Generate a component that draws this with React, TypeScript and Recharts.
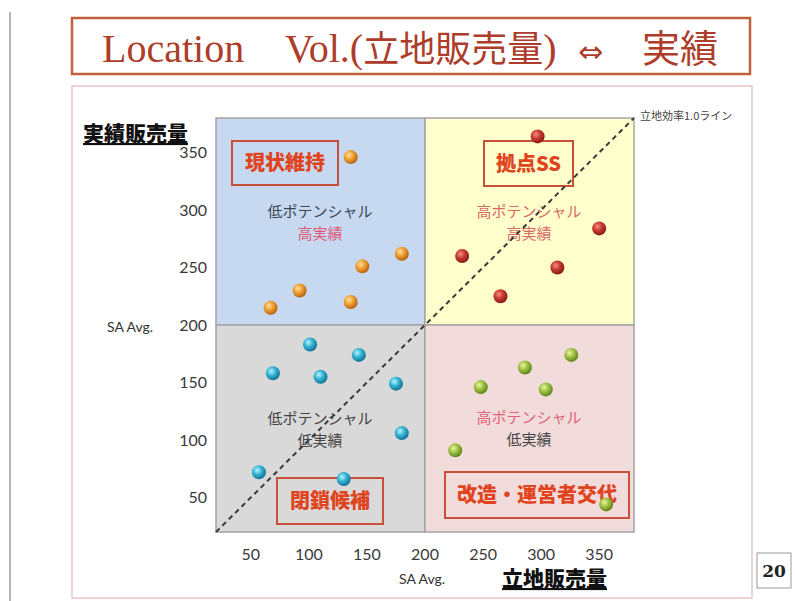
import React from 'react';
import {
  ScatterChart,
  Scatter,
  XAxis,
  YAxis,
  ReferenceArea,
  ReferenceLine,
} from 'recharts';

// 立地販売量 (x) / 実績販売量 (y)
const xTicks = [50, 100, 150, 200, 250, 300, 350];
const yTicks = [50, 100, 150, 200, 250, 300, 350];

const lowPotHighPerf = [
  { x: 136, y: 346 },
  { x: 180, y: 262 },
  { x: 146, y: 251 },
  { x: 92, y: 230 },
  { x: 136, y: 220 },
  { x: 67, y: 215 },
];

const highPotHighPerf = [
  { x: 297, y: 364 },
  { x: 350, y: 284 },
  { x: 232, y: 260 },
  { x: 314, y: 250 },
  { x: 265, y: 225 },
];

const lowPotLowPerf = [
  { x: 101, y: 183 },
  { x: 143, y: 174 },
  { x: 69, y: 158 },
  { x: 110, y: 155 },
  { x: 175, y: 149 },
  { x: 180, y: 106 },
  { x: 57, y: 72 },
  { x: 130, y: 66 },
];

const highPotLowPerf = [
  { x: 326, y: 174 },
  { x: 286, y: 163 },
  { x: 248, y: 146 },
  { x: 304, y: 144 },
  { x: 226, y: 91 },
  { x: 356, y: 44 },
];

const JP = '"Noto Sans CJK JP", "Noto Sans", sans-serif';
const TICK = { fill: '#3a3a3a', fontSize: 16, fontFamily: 'Lato, "Noto Sans", sans-serif' };

// 球状のマーカー
const ball = (id: string) => (props: any) => (
  <circle cx={props.cx} cy={props.cy} r={7} fill={`url(#${id})`} />
);

function Grad({ id, hi, mid, lo }: { id: string; hi: string; mid: string; lo: string }) {
  return (
    <radialGradient id={id} cx="38%" cy="35%" r="70%">
      <stop offset="0%" stopColor={hi} />
      <stop offset="45%" stopColor={mid} />
      <stop offset="100%" stopColor={lo} />
    </radialGradient>
  );
}

interface QuadProps {
  box: { x: number; y: number; w: number; h: number; text: string };
  lx: number;
  ly: number;
  l1: string;
  l2: string;
  c1: string;
  c2: string;
}

// 象限ラベル（枠付きの見出し + 2行の説明）
function Quad({ box, lx, ly, l1, l2, c1, c2 }: QuadProps) {
  return (
    <g>
      <rect x={box.x} y={box.y} width={box.w} height={box.h} fill="none" stroke="#c8503a" strokeWidth={2} />
      <text
        x={box.x + box.w / 2}
        y={box.y + box.h / 2 + 7}
        textAnchor="middle"
        fontFamily={JP}
        fontWeight={900}
        fontSize={20}
        fill="#e0441f"
      >
        {box.text}
      </text>
      <g fontFamily={JP} fontSize={15} textAnchor="middle">
        <text x={lx} y={ly} fill={c1}>{l1}</text>
        <text x={lx} y={ly + 22} fill={c2}>{l2}</text>
      </g>
    </g>
  );
}

export default function App() {
  return (
    <div style={{ position: 'absolute', left: 0, top: 0, width: 795, height: 601, background: '#fff' }}>
      <ScatterChart width={795} height={601} margin={{ top: 118, right: 161, bottom: 39, left: 176 }}>
        <defs>
          <Grad id="gOrange" hi="#ffe0a0" mid="#f0a033" lo="#b05a0c" />
          <Grad id="gRed" hi="#f49080" mid="#c83a30" lo="#7e1814" />
          <Grad id="gBlue" hi="#b8f4ff" mid="#35b4d4" lo="#0e6a8c" />
          <Grad id="gGreen" hi="#eaf6a0" mid="#9ec244" lo="#587a12" />
        </defs>

        {/* 外枠・タイトル */}
        <line x1={10} y1={12} x2={10} y2={601} stroke="#b4b4b4" strokeWidth={2} />
        <rect x={72} y={86} width={680} height={512} fill="none" stroke="#e8c6c6" strokeWidth={1.5} />
        <rect x={72} y={18} width={678} height={56} fill="#fff" stroke="#c25f3e" strokeWidth={2.5} />
        <text y={62} fill="#ad3d2a" fontFamily='"Liberation Serif", "DejaVu Serif", serif' fontSize={40}>
          <tspan x={102}>Location</tspan>
          <tspan x={285}>Vol.(</tspan>
          <tspan fontFamily={JP} fontSize={36}>立地販売量</tspan>
          <tspan>)</tspan>
          <tspan x={578} fontFamily='"DejaVu Sans", sans-serif' fontSize={30}>⇔</tspan>
          <tspan x={642} fontFamily={JP} fontSize={38}>実績</tspan>
        </text>

        <XAxis
          type="number"
          dataKey="x"
          domain={[20, 380]}
          ticks={xTicks}
          height={30}
          axisLine={false}
          tickLine={false}
          tickSize={0}
          tickMargin={17}
          tick={TICK}
          allowDataOverflow
        />
        <YAxis
          type="number"
          dataKey="y"
          domain={[20, 380]}
          ticks={yTicks}
          width={40}
          axisLine={false}
          tickLine={false}
          tickSize={0}
          tickMargin={9}
          tick={TICK}
          allowDataOverflow
        />

        {/* 4象限 */}
        <ReferenceArea x1={20} x2={200} y1={200} y2={380} fill="#c6d9f0" fillOpacity={1} stroke="#a4a4a4" strokeWidth={1.5} />
        <ReferenceArea x1={200} x2={380} y1={200} y2={380} fill="#ffffcc" fillOpacity={1} stroke="#a4a4a4" strokeWidth={1.5} />
        <ReferenceArea x1={20} x2={200} y1={20} y2={200} fill="#d9d9d9" fillOpacity={1} stroke="#a4a4a4" strokeWidth={1.5} />
        <ReferenceArea x1={200} x2={380} y1={20} y2={200} fill="#f2dcdb" fillOpacity={1} stroke="#a4a4a4" strokeWidth={1.5} />

        {/* 立地効率1.0ライン */}
        <ReferenceLine
          segment={[{ x: 20, y: 20 }, { x: 380, y: 380 }]}
          stroke="#3a3a3a"
          strokeWidth={2}
          strokeDasharray="5 4"
        />

        {/* 象限の注記（透明エリアのラベルとして描画） */}
        <ReferenceArea
          x1={20}
          x2={200}
          y1={200}
          y2={380}
          fill="none"
          stroke="none"
          label={
            <Quad
              box={{ x: 232, y: 141, w: 106, h: 44, text: '現状維持' }}
              lx={320} ly={217} l1="低ポテンシャル" l2="高実績" c1="#3c4858" c2="#e05a78"
            />
          }
        />
        <ReferenceArea
          x1={200}
          x2={380}
          y1={200}
          y2={380}
          fill="none"
          stroke="none"
          label={
            <Quad
              box={{ x: 484, y: 141, w: 89, h: 45, text: '拠点SS' }}
              lx={529} ly={217} l1="高ポテンシャル" l2="高実績" c1="#d86a6a" c2="#d86a6a"
            />
          }
        />
        <ReferenceArea
          x1={20}
          x2={200}
          y1={20}
          y2={200}
          fill="none"
          stroke="none"
          label={
            <Quad
              box={{ x: 277, y: 478, w: 106, h: 46, text: '閉鎖候補' }}
              lx={320} ly={424} l1="低ポテンシャル" l2="低実績" c1="#444" c2="#444"
            />
          }
        />
        <ReferenceArea
          x1={200}
          x2={380}
          y1={20}
          y2={200}
          fill="none"
          stroke="none"
          label={
            <Quad
              box={{ x: 445, y: 472, w: 184, h: 46, text: '改造・運営者交代' }}
              lx={529} ly={423} l1="高ポテンシャル" l2="低実績" c1="#e0647a" c2="#444"
            />
          }
        />

        <Scatter data={lowPotHighPerf} shape={ball('gOrange')} isAnimationActive={false} />
        <Scatter data={highPotHighPerf} shape={ball('gRed')} isAnimationActive={false} />
        <Scatter data={lowPotLowPerf} shape={ball('gBlue')} isAnimationActive={false} />
        <Scatter data={highPotLowPerf} shape={ball('gGreen')} isAnimationActive={false} />

        {/* 軸タイトル等 */}
        <text x={640} y={120} fontFamily={JP} fontSize={11} fill="#444">立地効率1.0ライン</text>
        <text x={83} y={141} fontFamily={JP} fontWeight={900} fontSize={21} fill="#111" textDecoration="underline">実績販売量</text>
        <text x={107} y={332} fontFamily='Lato, "Noto Sans", sans-serif' fontSize={14} fill="#333">SA Avg.</text>
        <text x={399} y={584} fontFamily='Lato, "Noto Sans", sans-serif' fontSize={14} fill="#333">SA Avg.</text>
        <text x={502} y={586} fontFamily={JP} fontWeight={900} fontSize={21} fill="#111" textDecoration="underline">立地販売量</text>

        <rect x={757} y={553} width={34} height={35} fill="#fff" stroke="#999" strokeWidth={1} />
        <text x={774} y={577} textAnchor="middle" fontFamily='"DejaVu Serif", serif' fontWeight={700} fontSize={17} fill="#222">20</text>
      </ScatterChart>
    </div>
  );
}
